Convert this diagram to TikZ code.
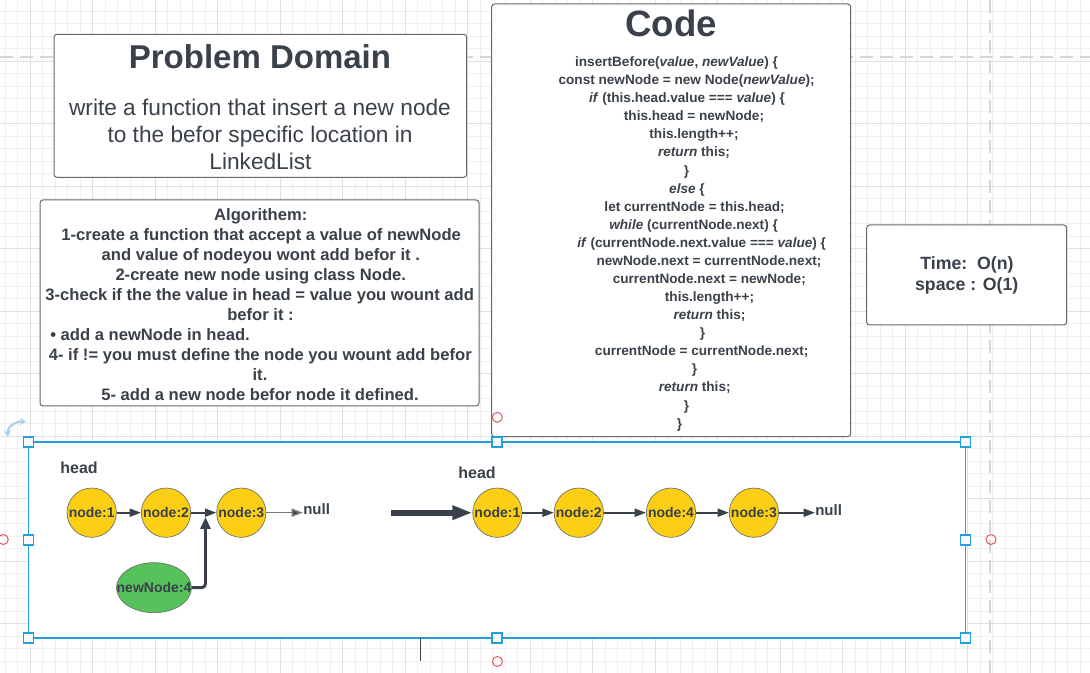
\documentclass[tikz,border=0pt]{standalone}
\usepackage{fontspec}
\setmainfont{Liberation Sans}
\usetikzlibrary{arrows.meta,shapes.geometric}
\newcommand{\setfs}[1]{\fontsize{#1pt}{#1pt}\selectfont}
\definecolor{ink}{RGB}{58,65,74}
\definecolor{boxline}{RGB}{100,104,110}
\definecolor{nodeyellow}{RGB}{252,206,20}
\definecolor{nodegreen}{RGB}{85,194,92}
\definecolor{nodeborder}{RGB}{110,110,110}
\definecolor{selblue}{RGB}{35,160,220}
\definecolor{gminor}{RGB}{239,239,239}
\definecolor{gmajor}{RGB}{224,224,224}
\definecolor{gdash}{RGB}{214,214,214}
\definecolor{markred}{RGB}{228,88,100}
\definecolor{rotcol}{RGB}{172,206,236}
\definecolor{nullgray}{RGB}{120,120,120}
\definecolor{handlefill}{RGB}{246,250,253}
\tikzset{
  gridminor/.style={draw=gminor, line width=0.75pt},
  gridmajor/.style={draw=gmajor, line width=0.75pt},
  pagedash/.style={draw=gdash, line width=1.5pt, dash pattern=on 10pt off 5pt},
  panel/.style={draw=boxline, fill=white, line width=0.75pt, rounded corners=2.25pt},
  txt/.style={inner sep=0pt, text=ink, anchor=base},
  codeline/.style={txt, font=\setfs{10.2}\bfseries},
  algline/.style={txt, font=\setfs{12.45}\bfseries},
  timeline/.style={txt, font=\setfs{13.3}\bfseries},
  headlbl/.style={txt, font=\setfs{12}\bfseries},
  nulllbl/.style={txt, anchor=base west, font=\setfs{11.25}\bfseries},
  llnode/.style={circle, draw=nodeborder, line width=0.5pt, fill=nodeyellow, minimum size=37pt, inner sep=0pt, text=ink, font=\setfs{10.5}\bfseries},
  newnode/.style={ellipse, draw=nodeborder, line width=0.5pt, fill=nodegreen, minimum width=56.25pt, minimum height=37.5pt, inner sep=0pt, text=ink, font=\setfs{10.5}\bfseries},
  link/.style={draw=ink, line width=1.5pt, -{Triangle[length=8.5pt,width=6pt]}},
  nulllink/.style={draw=nullgray, line width=1.2pt, -{Triangle[length=8.5pt,width=6pt,fill=ink]}},
  elbow/.style={draw=ink, line width=2.2pt, rounded corners=3pt, -{Triangle[length=9pt,width=7.5pt]}},
  bigarrow/.style={draw=ink, line width=4.5pt, -{Triangle[length=15pt,width=10pt]}},
  selbox/.style={draw=selblue, fill=white, line width=1.2pt},
  handle/.style={rectangle, draw=selblue, fill=handlefill, line width=1.2pt, minimum size=7.5pt, inner sep=0pt},
  marker/.style={circle, draw=markred, line width=0.75pt, minimum size=7.5pt, inner sep=0pt},
}
\begin{document}
\begin{tikzpicture}[x=0.75pt,y=-0.75pt]
\useasboundingbox (0,0) rectangle (1090,673);
\fill[white] (0,0) rectangle (1090,673);
% grid
\foreach \gx in {5,17.5,...,1090} \draw[gridminor] (\gx,0) -- (\gx,673);
\foreach \gy in {-1,11.5,...,673} \draw[gridminor] (0,\gy) -- (1090,\gy);
\foreach \gx in {30,92.5,...,1090} \draw[gridmajor] (\gx,0) -- (\gx,673);
\foreach \gy in {61.5,124,...,673} \draw[gridmajor] (0,\gy) -- (1090,\gy);
\draw[pagedash] (0,57) -- (1090,57);
\draw[pagedash] (990,0) -- (990,673);

% Problem domain
\draw[panel] (54,34.3) rectangle (466.7,177.3);
\node[txt, font=\setfs{24.75}\bfseries] (pdtitle) at (260,68.3) {Problem Domain};
\node[txt, font=\setfs{17}] (pd1) at (260,115.2) {write a function that insert a new node};
\node[txt, font=\setfs{17}] (pd2) at (260,142.2) {to the befor specific location in};
\node[txt, font=\setfs{17}] (pd3) at (260.5,169.3) {LinkedList};

% Algorithm
\draw[panel] (40,200) rectangle (479,406);
\node[algline] (a1) at (260.8,221) {Algorithem:};
\node[algline] (a2) at (261.2,240.9) {1-create a function that accept a value of newNode};
\node[algline] (a3) at (260.8,260.8) {and value of nodeyou wont add befor it .};
\node[algline] (a4) at (260.8,280.7) {2-create new node using class Node.};
\node[algline] (a5) at (259.7,300.6) {3-check if the the value in head = value you wount add};
\node[algline] (a6) at (260.5,320.5) {befor it :};
\node[algline, anchor=base west] (a7) at (50,340.4) {\textbullet\ add a newNode in head.};
\node[algline] (a8) at (260.3,360.3) {4- if != you must define the node you wount add befor};
\node[algline] (a9) at (260,380.2) {it.};
\node[algline] (a10) at (260,400.1) {5- add a new node befor node it defined.};

% Code
\draw[panel] (491.7,4) rectangle (850.7,436.7);
\node[txt, font=\setfs{27.5}\bfseries] (codetitle) at (671,37) {Code};
\node[codeline] (c1) at (676.5,66.6) {insertBefore(\textit{value}, \textit{newValue}) \{};
\node[codeline] (c2) at (686.6,84.7) {const newNode = new Node(\textit{newValue});};
\node[codeline] (c3) at (687,102.8) {\textit{if} (this.head.value === \textit{value}) \{};
\node[codeline] (c4) at (694,120.8) {this.head = newNode;};
\node[codeline] (c5) at (694,138.9) {this.length++;};
\node[codeline] (c6) at (694,157) {\textit{return} this;};
\node[codeline] (c7) at (686.5,175.1) {\}};
\node[codeline] (c8) at (687,193.2) {\textit{else} \{};
\node[codeline] (c9) at (694.6,211.2) {let currentNode = this.head;};
\node[codeline] (c10) at (693.6,229.3) {\textit{while} (currentNode.next) \{};
\node[codeline] (c11) at (701.7,247.4) {\textit{if} (currentNode.next.value === \textit{value}) \{};
\node[codeline] (c12) at (709,265.5) {newNode.next = currentNode.next;};
\node[codeline] (c13) at (709.3,283.6) {currentNode.next = newNode;};
\node[codeline] (c14) at (709.5,301.6) {this.length++;};
\node[codeline] (c15) at (709.5,319.7) {\textit{return} this;};
\node[codeline] (c16) at (702.5,337.8) {\}};
\node[codeline] (c17) at (701.7,355.9) {currentNode = currentNode.next;};
\node[codeline] (c18) at (694.5,374) {\}};
\node[codeline] (c19) at (694.7,392) {\textit{return} this;};
\node[codeline] (c20) at (686.5,410.1) {\}};
\node[codeline] (c21) at (679.5,428.2) {\}};

% Complexity
\draw[panel] (866.7,225) rectangle (1066.7,325);
\node[timeline] (t1) at (967,269.3) {Time:\ \ O(n)};
\node[timeline] (t2) at (966.7,290.7) {space : O(1)};

% selection frame
\draw[selbox] (28.3,442) rectangle (965.5,638);

% left list
\node[headlbl] (Lhead) at (79,473.3) {head};
\node[llnode] (L1) at (91.7,512.7) {\makebox[0pt]{node:1}};
\node[llnode] (L2) at (166,512.7) {\makebox[0pt]{node:2}};
\node[llnode] (L3) at (241.3,512.7) {\makebox[0pt]{node:3}};
\node[nulllbl] (Lnull) at (303,515) {null};
\node[newnode] (N4) at (154,587.7) {\makebox[0pt]{newNode:4}};
\coordinate (join) at (205.5,517);
\draw[link] (L1) -- (L2);
\draw[link] (L2) -- (L3);
\draw[nulllink] (L3.east) -- (L3.east -| Lnull.west);
\draw[elbow] (N4.east) -| (join);

% transition arrow
\coordinate (bigstart) at (391,512.7);

% right list
\node[headlbl] (Rhead) at (477,479) {head};
\node[llnode] (R1) at (497.4,512.7) {\makebox[0pt]{node:1}};
\node[llnode] (R2) at (578.8,512.7) {\makebox[0pt]{node:2}};
\node[llnode] (R4) at (671,512.7) {\makebox[0pt]{node:4}};
\node[llnode] (R3) at (753.9,512.7) {\makebox[0pt]{node:3}};
\node[nulllbl] (Rnull) at (815,516) {null};
\draw[bigarrow] (bigstart) -- (R1.west);
\draw[link] (R1) -- (R2);
\draw[link] (R2) -- (R4);
\draw[link] (R4) -- (R3);
\draw[link] (R3.east) -- (R3.east -| Rnull.west);

% handles and markers
\foreach \hx/\hy [count=\i] in {28.3/442, 496.9/442, 965.5/442, 28.3/540, 965.5/540, 28.3/638, 496.9/638, 965.5/638}
  \node[handle] (h\i) at (\hx,\hy) {};
\foreach \mx/\my [count=\i] in {497.3/417.3, 3.3/539.5, 991/539.5, 497.4/661.5}
  \node[marker] (m\i) at (\mx,\my) {};
\draw[ink, line width=0.75pt] (420.5,638.5) -- (420.5,661);
\draw[rotcol, line width=1.6pt, {Stealth[length=4.5pt,width=5.5pt]}-{Stealth[length=4.5pt,width=5.5pt]}] (8,436.5) .. controls (7,428) and (14,421.5) .. (26,421.5);
\end{tikzpicture}
\end{document}
